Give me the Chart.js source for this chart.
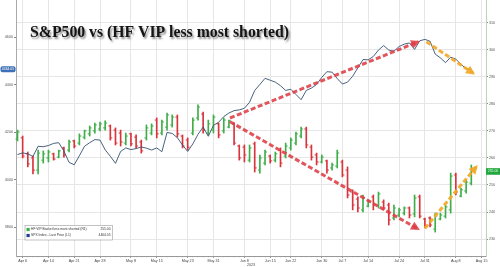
<!DOCTYPE html>
<html>
<head>
<meta charset="utf-8">
<title>S&amp;P500 vs HF VIP less most shorted</title>
<script src="https://cdn.jsdelivr.net/npm/chart.js@4.4.1/dist/chart.umd.min.js"></script>
<style>
  body { margin: 0; background: #fff; }
  canvas { display: block; }
</style>
</head>
<body>
<canvas id="chart" width="500" height="267"></canvas>
<script>
const title = 'S&P500 vs (HF VIP less most shorted)';

// one slot per trading day
const days = ['Apr 5','Apr 6','Apr 10','Apr 11','Apr 12','Apr 13','Apr 14','Apr 17','Apr 18','Apr 19','Apr 20','Apr 21','Apr 24','Apr 25','Apr 26','Apr 27','Apr 28',
  'May 1','May 2','May 3','May 4','May 5','May 8','May 9','May 10','May 11','May 12','May 15','May 16','May 17','May 18','May 19','May 22','May 23','May 24','May 25','May 26','May 30','May 31',
  'Jun 1','Jun 2','Jun 5','Jun 6','Jun 7','Jun 8','Jun 9','Jun 12','Jun 13','Jun 14','Jun 15','Jun 16','Jun 20','Jun 21','Jun 22','Jun 23','Jun 26','Jun 27','Jun 28','Jun 29','Jun 30',
  'Jul 3','Jul 5','Jul 6','Jul 7','Jul 10','Jul 11','Jul 12','Jul 13','Jul 14','Jul 17','Jul 18','Jul 19','Jul 20','Jul 21','Jul 24','Jul 25','Jul 26','Jul 27','Jul 28','Jul 31',
  'Aug 1','Aug 2','Aug 3','Aug 4','Aug 7','Aug 8','Aug 9','Aug 10','Aug 11','Aug 14','Aug 15'];

const tickLabels = ['Apr 6','Apr 14','Apr 21','Apr 28','May 8','May 15','May 23','May 31','Jun 8','Jun 15','Jun 22','Jun 30','Jul 7','Jul 14','Jul 24','Jul 31','Aug 8','Aug 15'];
const yearLabel = '2023';
const spxTicks = [3800, 4000, 4200, 4400, 4600];
const vipTicks = [230, 240, 250, 260, 270, 280, 290, 300, 310];

const spx = [4105,4112,4108,4097,4140,4138,4143,4152,4155,4120,
  4072,4062,4100,4140,4155,4168,4166,4125,4098,4068,
  4118,4133,4126,4130,4137,4132,4124,4133,4117,4198,
  4194,4176,4145,4118,4150,4190,4221,4182,4228,4241,
  4265,4280,4290,4293,4300,4325,4375,4400,4426,4418,
  4410,4395,4375,4380,4358,4336,4375,4385,4400,4430,
  4454,4452,4425,4402,4410,4435,4470,4505,4504,4518,
  4545,4564,4545,4540,4560,4570,4575,4548,4584,4590,
  4582,4528,4512,4492,4515,4507,4485,4466,4464.05];

const vipOpen = [267.0,267.4,261.5,260.0,255.5,259.2,260.0,261.5,260.3,263.7,
  262.9,266.3,265.5,267.7,268.9,270.0,270.7,271.1,271.8,270.3,
  269.2,265.5,268.9,267.7,265.9,267.4,269.2,274.0,269.2,271.4,
  272.2,275.1,268.1,266.6,269.2,274.8,276.2,269.2,270.3,272.6,
  270.0,271.4,272.6,264.4,264.0,259.2,265.2,255.5,258.1,260.7,
  259.2,262.9,260.7,263.7,265.5,268.1,270.7,264.0,261.1,258.5,
  258.9,256.3,257.0,258.5,255.5,247.4,244.8,240.8,242.2,245.6,
  242.2,243.7,242.6,237.8,238.9,239.6,241.5,239.3,245.6,237.4,
  237.8,233.7,237.4,238.5,240.8,253.7,245.9,247.8,250.7];
const vipHigh = [270.3,268.1,262.2,260.7,262.9,262.6,262.9,261.8,262.9,264.0,
  266.6,266.6,268.9,270.3,271.8,272.9,273.3,273.7,272.2,271.1,
  270.3,269.2,269.2,268.5,266.6,272.2,272.6,274.8,274.0,276.6,
  275.9,275.9,268.5,267.4,274.8,279.6,277.0,274.0,275.9,272.9,
  274.8,274.0,272.9,264.8,264.8,264.8,265.9,261.1,262.9,261.1,
  262.2,263.7,265.5,267.4,269.6,271.4,271.4,264.8,261.8,261.1,
  259.2,258.1,262.9,259.2,256.7,248.2,245.6,246.3,244.5,246.3,
  247.4,244.5,243.3,242.6,241.5,241.9,241.9,246.3,246.3,237.8,
  238.2,239.6,239.6,242.6,254.4,254.4,248.9,251.8,257.4];
const vipLow = [266.3,260.0,256.7,254.1,254.1,258.1,258.5,259.2,260.0,260.3,
  262.2,263.7,264.8,267.0,268.1,269.2,270.0,270.3,266.6,264.8,
  264.4,264.8,264.4,263.7,261.8,266.6,268.5,267.4,268.5,270.3,
  271.4,267.7,263.7,262.9,268.5,274.0,269.2,268.5,269.2,267.4,
  269.2,271.1,264.8,259.2,258.5,258.5,254.8,254.4,257.4,258.1,
  258.5,256.7,260.0,262.9,264.8,267.4,263.7,259.2,257.4,258.1,
  254.4,255.5,256.3,253.0,245.2,240.8,240.0,240.0,241.9,240.8,
  241.5,240.8,235.2,237.1,238.2,238.9,237.8,238.2,237.8,234.1,
  234.5,232.6,237.1,237.8,239.6,246.3,245.6,247.0,250.0];
const vipClose = [269.6,260.7,257.8,255.5,261.8,261.5,262.2,259.6,262.6,261.1,
  265.9,264.4,268.1,270.0,271.1,272.2,272.6,272.9,267.4,265.5,
  265.9,268.1,265.2,264.4,262.6,271.1,271.8,268.9,273.3,275.9,
  275.1,268.9,264.4,264.0,274.0,278.8,270.3,272.6,275.1,268.5,
  274.0,273.7,265.5,260.0,261.1,263.7,256.3,260.0,262.2,258.9,
  261.5,258.1,264.4,266.6,268.9,270.7,264.8,260.3,258.5,260.3,
  255.5,257.4,261.8,253.7,246.3,242.6,241.5,245.2,244.1,242.6,
  246.7,241.5,237.1,241.5,240.8,241.5,238.9,245.2,238.5,234.8,
  235.2,238.5,238.9,241.9,253.3,247.4,248.2,251.1,255.0];

const seriesNames = ['HF VIP Basket less most shorted (R1)', 'SPX Index - Last Price (L1)'];

// hand drawn trend arrows: [slot, value]
const redUp = [[41.2, 4259], [77.7, 4580]];        // on SPX scale
const redDown = [[41.2, 273.4], [77.7, 233.7]];    // on HF VIP scale
const orangeDown = [[79.3, 4580], [88.4, 4447]];   // on SPX scale
const orangeUp = [[79.0, 234.0], [89.0, 256.8]];   // on HF VIP scale

const GREEN = '#3fae49', RED = '#d8343b', LINE = '#34506f';
const ARROW_RED = 'rgba(222,62,70,0.88)', ARROW_ORANGE = 'rgba(242,168,40,0.92)';

const pts = arr => arr.map(p => ({x: p[0], y: p[1]}));

function fitTo(size) {
  return function(scale) {
    if (scale.isHorizontal()) scale.height = size; else scale.width = size;
    scale.paddingTop = scale.paddingBottom = scale.paddingLeft = scale.paddingRight = 0;
  };
}

const tinyFont = {family: '"Liberation Sans", Arial, sans-serif', size: 3.7};

function arrowSet(data, color, axis) {
  return {
    type: 'line', data: pts(data), yAxisID: axis, xAxisID: 'x', arrow: true,
    borderColor: color, borderWidth: 3, borderDash: [5, 2.5], borderCapStyle: 'butt',
    pointRadius: 0, fill: false, order: 0
  };
}

const overlay = {
  id: 'overlay',
  afterDatasetDraw(chart, args) {
    const ds = chart.data.datasets[args.index];
    if (!ds.ohlc) return;
    const ctx = chart.ctx, yR = chart.scales.yR;
    ctx.save();
    ctx.lineWidth = 1;
    args.meta.data.forEach((bar, i) => {
      ctx.strokeStyle = vipClose[i] >= vipOpen[i] ? GREEN : RED;
      const yo = yR.getPixelForValue(vipOpen[i]);
      const yc = yR.getPixelForValue(vipClose[i]);
      ctx.beginPath();
      ctx.moveTo(bar.x - 2, yo); ctx.lineTo(bar.x, yo);
      ctx.moveTo(bar.x, yc); ctx.lineTo(bar.x + 2, yc);
      ctx.stroke();
    });
    ctx.restore();
  },
  afterDatasetsDraw(chart) {
    const ctx = chart.ctx;
    chart.data.datasets.forEach((ds, i) => {
      if (!ds.arrow) return;
      const pt = chart.getDatasetMeta(i).data;
      const a = pt[pt.length - 2], b = pt[pt.length - 1];
      const ang = Math.atan2(b.y - a.y, b.x - a.x);
      ctx.save();
      ctx.translate(b.x, b.y);
      ctx.rotate(ang);
      ctx.fillStyle = ds.borderColor;
      ctx.beginPath();
      ctx.moveTo(2, 0); ctx.lineTo(-7, -4.5); ctx.lineTo(-7, 4.5); ctx.closePath();
      ctx.fill();
      ctx.restore();
    });
  },
  afterDraw(chart) {
    const ctx = chart.ctx;
    const yL = chart.scales.yL, yR = chart.scales.yR;

    // title with drop shadow
    ctx.save();
    ctx.font = 'bold 16px "Liberation Serif", "Times New Roman", serif';
    const size = 16 * 259 / ctx.measureText(title).width;
    ctx.font = 'bold ' + size + 'px "Liberation Serif", "Times New Roman", serif';
    ctx.shadowColor = 'rgba(0,0,0,0.45)';
    ctx.shadowBlur = 2; ctx.shadowOffsetX = 1.5; ctx.shadowOffsetY = 1.5;
    ctx.fillStyle = '#141414';
    ctx.textBaseline = 'alphabetic';
    ctx.fillText(title, 30, 37);
    ctx.restore();

    // legend box
    const lastSpx = spx[spx.length - 1], lastVip = vipClose[vipClose.length - 1];
    const vals = [lastVip.toFixed(2), lastSpx.toFixed(2)];
    const sw = [GREEN, '#1f3f8f'];
    ctx.save();
    ctx.fillStyle = '#fff'; ctx.strokeStyle = '#9a9a9a'; ctx.lineWidth = 0.6;
    ctx.fillRect(25, 225.5, 87.5, 14.5);
    ctx.strokeRect(25, 225.5, 87.5, 14.5);
    ctx.font = '3.3px "Liberation Sans", Arial, sans-serif';
    ctx.textBaseline = 'middle';
    seriesNames.forEach((name, i) => {
      const cy = 229.5 + i * 6;
      ctx.fillStyle = sw[i];
      ctx.fillRect(26.5, cy - 1.6, 3.2, 3.2);
      ctx.fillStyle = '#333';
      ctx.textAlign = 'left';
      ctx.fillText(name, 31, cy);
      ctx.textAlign = 'right';
      ctx.fillText(vals[i], 110.5, cy);
    });
    ctx.restore();

    // last value tags
    ctx.save();
    ctx.font = '3.4px "Liberation Sans", Arial, sans-serif';
    ctx.textBaseline = 'middle'; ctx.textAlign = 'center';
    const ly = yL.getPixelForValue(lastSpx);
    ctx.fillStyle = '#3f70b5';
    ctx.beginPath(); ctx.roundRect(0.5, ly - 3, 15, 6, 2); ctx.fill();
    ctx.fillStyle = '#fff';
    ctx.fillText(lastSpx.toFixed(2), 8, ly);
    const ry = yR.getPixelForValue(lastVip);
    ctx.fillStyle = '#22a83f';
    ctx.fillRect(486, ry - 3.3, 14, 6.6);
    ctx.fillStyle = '#eaffea';
    ctx.fillText(lastVip.toFixed(2), 493, ry);
    ctx.restore();
  }
};

const ohlcBars = vipLow.map((lo, i) => ({x: i, y: [lo, vipHigh[i]]}));
const barColors = vipClose.map((c, i) => c >= vipOpen[i] ? GREEN : RED);

new Chart(document.getElementById('chart'), {
  type: 'line',
  data: {
    datasets: [
      arrowSet(redUp, ARROW_RED, 'yL'),
      arrowSet(redDown, ARROW_RED, 'yR'),
      arrowSet(orangeDown, ARROW_ORANGE, 'yL'),
      arrowSet(orangeUp, ARROW_ORANGE, 'yR'),
      {
        type: 'line', label: seriesNames[1], data: spx.map((v, i) => ({x: i, y: v})),
        xAxisID: 'x', yAxisID: 'yL', borderColor: LINE, borderWidth: 0.9,
        pointRadius: 0, tension: 0, fill: false, order: 1
      },
      {
        type: 'bar', label: seriesNames[0], data: ohlcBars, ohlc: true,
        xAxisID: 'x', yAxisID: 'yR', backgroundColor: barColors,
        barThickness: 1, borderWidth: 0, grouped: false, order: 2
      }
    ]
  },
  options: {
    responsive: false,
    animation: false,
    layout: {padding: 0},
    plugins: {legend: {display: false}, tooltip: {enabled: false}},
    scales: {
      x: {
        type: 'linear', position: 'bottom', min: -0.29, max: 90.85, offset: false,
        afterBuildTicks: s => { s.ticks = tickLabels.map(l => ({value: days.indexOf(l)})); },
        ticks: {
          autoSkip: false, maxRotation: 0, minRotation: 0, padding: 1,
          font: tinyFont, color: '#444',
          callback: v => days[v]
        },
        grid: {color: '#e6e6e6', tickLength: 2, tickColor: '#999', offset: false},
        border: {color: '#999'},
        title: {display: true, text: yearLabel, font: tinyFont, color: '#444', padding: 0},
        afterFit: fitTo(11)
      },
      xm: {
        type: 'linear', position: 'bottom', min: -0.29, max: 90.85, weight: -1, offset: false,
        afterBuildTicks: s => { s.ticks = days.map((d, i) => ({value: i})); },
        ticks: {display: false},
        grid: {drawOnChartArea: false, tickLength: 1.2, tickColor: '#999'},
        border: {display: false},
        afterFit: fitTo(0)
      },
      yL: {
        type: 'linear', position: 'left', min: 3677.9, max: 4755.8,
        afterBuildTicks: s => { s.ticks = spxTicks.map(v => ({value: v})); },
        ticks: {font: tinyFont, color: '#555', padding: 1, callback: v => String(v)},
        grid: {drawOnChartArea: false, tickLength: 2, tickColor: '#888'},
        border: {color: '#aaa'},
        afterFit: fitTo(16)
      },
      yR: {
        type: 'linear', position: 'right', min: 223.75, max: 318.39,
        afterBuildTicks: s => { s.ticks = vipTicks.map(v => ({value: v})); },
        ticks: {font: tinyFont, color: '#555', padding: 1, callback: v => String(v)},
        grid: {color: '#e6e6e6', tickLength: 2, tickColor: '#888'},
        border: {color: '#bcd3bc'},
        afterFit: fitTo(14)
      }
    }
  },
  plugins: [overlay]
});
</script>
</body>
</html>
